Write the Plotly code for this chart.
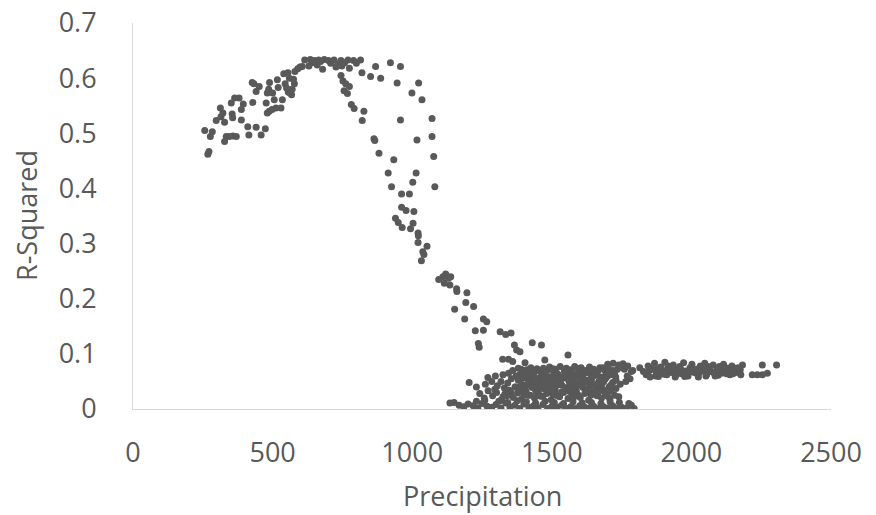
import plotly.graph_objects as go

# ---- data (Precipitation vs R-Squared) ----
rise_x = [272, 268, 257, 284, 277, 298, 315, 322, 313, 328, 334, 345, 358, 370, 328, 352, 355, 357,
          364, 380, 388, 388, 411, 415, 441, 459, 474, 427, 433, 441, 429, 481, 486, 477, 489, 481,
          488, 498, 512, 506, 500, 535, 530, 517, 540, 555, 545, 550, 556, 562, 570, 578, 568, 580,
          590, 598, 606, 395, 452, 520, 560, 575]
rise_y = [0.467, 0.462, 0.505, 0.503, 0.494, 0.523, 0.530, 0.537, 0.546, 0.520, 0.494, 0.494, 0.495,
          0.494, 0.485, 0.555, 0.535, 0.528, 0.564, 0.564, 0.543, 0.524, 0.512, 0.497, 0.511, 0.497,
          0.508, 0.592, 0.590, 0.576, 0.556, 0.573, 0.580, 0.555, 0.592, 0.537, 0.540, 0.543, 0.546,
          0.561, 0.573, 0.561, 0.546, 0.597, 0.608, 0.610, 0.590, 0.582, 0.575, 0.573, 0.580, 0.590,
          0.570, 0.612, 0.617, 0.620, 0.621, 0.553, 0.585, 0.583, 0.600, 0.598]

peak_x = [615, 635, 650, 665, 685, 700, 720, 745, 770, 790, 815, 630, 660, 679, 727, 748, 775,
          745, 752, 762, 775, 756, 768, 782, 792, 820, 851, 869, 887, 922, 958, 946, 1023, 999,
          1035, 827, 821, 958, 863, 866, 881, 934, 1017, 1071, 1071, 1077, 642, 672, 708, 735, 758,
          800]
peak_y = [0.633, 0.634, 0.632, 0.633, 0.634, 0.632, 0.633, 0.632, 0.633, 0.632, 0.633, 0.622,
          0.624, 0.616, 0.620, 0.622, 0.618, 0.605, 0.595, 0.590, 0.585, 0.577, 0.572, 0.552, 0.545,
          0.610, 0.603, 0.621, 0.600, 0.628, 0.621, 0.591, 0.591, 0.573, 0.561, 0.540, 0.523, 0.524,
          0.490, 0.487, 0.464, 0.452, 0.488, 0.527, 0.494, 0.458, 0.628, 0.630, 0.627, 0.626, 0.628,
          0.627]

fall_x = [914, 1014, 926, 1002, 1081, 962, 990, 962, 978, 1006, 940, 950, 964, 1003, 994, 1021,
          1022, 1021, 1053, 1038, 1042, 1033, 1095, 1110, 1120, 1130, 1138, 1115, 1135, 1159, 1160,
          1196, 1192, 1220, 1152, 1188, 1255, 1267, 1226, 1255, 1315, 1335, 1354, 1237, 1240, 1366,
          1374, 1386, 1324, 1345, 1360, 1430, 1463, 1475, 1558, 1404, 1380]
fall_y = [0.428, 0.428, 0.403, 0.411, 0.403, 0.390, 0.390, 0.366, 0.360, 0.358, 0.346, 0.338,
          0.329, 0.337, 0.327, 0.319, 0.314, 0.302, 0.295, 0.285, 0.280, 0.269, 0.235, 0.240, 0.245,
          0.237, 0.240, 0.228, 0.225, 0.218, 0.213, 0.211, 0.193, 0.186, 0.181, 0.163, 0.163, 0.158,
          0.142, 0.143, 0.140, 0.135, 0.138, 0.119, 0.112, 0.116, 0.107, 0.104, 0.090, 0.090, 0.086,
          0.120, 0.116, 0.089, 0.098, 0.084, 0.074]

band_a_x = [1385, 1395, 1402, 1410, 1418, 1425, 1432, 1440, 1447, 1455, 1462, 1470, 1477, 1485,
            1492, 1500, 1508, 1515, 1522, 1530, 1538, 1545, 1552, 1560, 1568, 1575, 1582, 1590,
            1598, 1605, 1612, 1620, 1628, 1635, 1642, 1650, 1658, 1665, 1672, 1680, 1688, 1695,
            1702, 1710, 1718, 1725, 1735, 1748,
            1390, 1414, 1436, 1458, 1481, 1504, 1526, 1549, 1571, 1594, 1616, 1639, 1661, 1684,
            1706, 1729]
band_a_y = [0.062, 0.068, 0.058, 0.071, 0.064, 0.075, 0.060, 0.069, 0.073, 0.056, 0.066, 0.074,
            0.061, 0.070, 0.076, 0.059, 0.067, 0.072, 0.063, 0.077, 0.057, 0.069, 0.074, 0.062,
            0.071, 0.065, 0.077, 0.058, 0.068, 0.075, 0.061, 0.070, 0.066, 0.076, 0.059, 0.072,
            0.064, 0.069, 0.075, 0.058, 0.071, 0.066, 0.078, 0.062, 0.070, 0.064, 0.072, 0.076,
            0.072, 0.060, 0.064, 0.070, 0.058, 0.073, 0.060, 0.064, 0.059, 0.073, 0.067, 0.063,
            0.061, 0.075, 0.068, 0.058]

band_b_x = [1305, 1318, 1330, 1342, 1355, 1368, 1380, 1392, 1405, 1417, 1430, 1442, 1455, 1468,
            1480, 1492, 1505, 1517, 1530, 1542, 1555, 1568, 1580, 1592, 1605, 1617, 1630, 1642,
            1655, 1668, 1680, 1692, 1705, 1718, 1730, 1745,
            1386, 1411, 1436, 1461, 1486, 1511, 1536, 1561, 1586, 1611, 1636, 1661, 1686, 1711,
            1398, 1423, 1448, 1473, 1498, 1523, 1548, 1573, 1598, 1623, 1648, 1673, 1698, 1722]
band_b_y = [0.042, 0.050, 0.038, 0.047, 0.055, 0.040, 0.052, 0.045, 0.036, 0.050, 0.057, 0.041,
            0.048, 0.054, 0.038, 0.046, 0.053, 0.043, 0.050, 0.056, 0.039, 0.047, 0.052, 0.044,
            0.055, 0.037, 0.049, 0.053, 0.042, 0.050, 0.046, 0.055, 0.040, 0.048, 0.052, 0.045,
            0.040, 0.044, 0.050, 0.039, 0.052, 0.038, 0.043, 0.051, 0.038, 0.047, 0.041, 0.036,
            0.050, 0.043,
            0.056, 0.048, 0.042, 0.060, 0.044, 0.055, 0.061, 0.043, 0.058, 0.052, 0.060, 0.046,
            0.059, 0.062]

band_c_x = [1242, 1258, 1272, 1288, 1302, 1318, 1332, 1348, 1362, 1378, 1392, 1408, 1422, 1438,
            1452, 1468, 1482, 1498, 1512, 1528, 1542, 1558, 1572, 1588, 1602, 1618, 1632, 1648,
            1662, 1678, 1692, 1708, 1725, 1740,
            1296, 1325, 1355, 1385, 1415, 1445, 1475, 1505, 1535, 1565, 1595, 1625, 1655, 1685,
            1340, 1370, 1400, 1430, 1460, 1490, 1520, 1550, 1580, 1610, 1640, 1670, 1700, 1730,
            1412, 1442, 1472, 1502, 1532, 1562, 1592, 1622, 1652, 1682, 1712]
band_c_y = [0.028, 0.020, 0.033, 0.024, 0.030, 0.016, 0.027, 0.034, 0.021, 0.029, 0.018, 0.032,
            0.025, 0.020, 0.031, 0.023, 0.028, 0.017, 0.034, 0.022, 0.030, 0.019, 0.026, 0.033,
            0.021, 0.028, 0.016, 0.031, 0.024, 0.020, 0.029, 0.018, 0.025, 0.022,
            0.036, 0.022, 0.029, 0.035, 0.025, 0.030, 0.036, 0.026, 0.031, 0.036, 0.025, 0.034,
            0.030, 0.033,
            0.024, 0.040, 0.026, 0.039, 0.023, 0.041, 0.024, 0.038, 0.022, 0.040, 0.025, 0.039,
            0.023, 0.037,
            0.045, 0.033, 0.044, 0.034, 0.046, 0.032, 0.045, 0.035, 0.044, 0.036, 0.033]

band_d_x = [1135, 1150, 1168, 1185, 1200, 1218, 1235, 1250, 1268, 1285, 1300, 1318, 1335, 1350,
            1368, 1385, 1400, 1418, 1435, 1450, 1468, 1485, 1500, 1518, 1535, 1550, 1568, 1585,
            1600, 1618, 1635, 1650, 1668, 1685, 1700, 1718, 1735, 1750, 1768, 1785, 1795,
            1310, 1342, 1376, 1409, 1442, 1476, 1509, 1542, 1576, 1609, 1642, 1676, 1709, 1742,
            1776, 1260, 1230]
band_d_y = [0.011, 0.012, 0.007, 0.004, 0.009, 0.006, 0.002, 0.010, 0.005, 0.003, 0.008, 0.002,
            0.011, 0.004, 0.007, 0.001, 0.009, 0.003, 0.006, 0.002, 0.008, 0.001, 0.005, 0.003,
            0.007, 0.002, 0.004, 0.001, 0.006, 0.003, 0.002, 0.005, 0.001, 0.004, 0.002, 0.006,
            0.001, 0.003, 0.002, 0.007, 0.001,
            0.014, 0.012, 0.015, 0.013, 0.011, 0.014, 0.012, 0.010, 0.013, 0.011, 0.012, 0.010,
            0.013, 0.012, 0.010, 0.016, 0.014]

extra_x = [1204, 1271, 1230, 1262, 1285, 1298, 1325, 1345, 1360, 1372, 1760, 1772, 1785, 1790,
           1770, 1755, 1740, 1720, 1700, 1780, 1765, 1665, 1680]
extra_y = [0.048, 0.057, 0.040, 0.045, 0.050, 0.060, 0.062, 0.065, 0.070, 0.060, 0.072, 0.078,
           0.068, 0.070, 0.060, 0.082, 0.080, 0.083, 0.081, 0.055, 0.050, 0.029, 0.035]

right_x = [1815, 1828, 1838, 1845, 1852, 1860, 1868, 1875, 1882, 1890, 1898, 1905, 1912, 1920,
           1928, 1935, 1942, 1950, 1958, 1965, 1972, 1980, 1988, 1995, 2002, 2010, 2018, 2025,
           2032, 2040, 2048, 2055, 2062, 2070, 2078, 2085, 2092, 2100, 2108, 2115, 2122, 2130,
           2138, 2145, 2152, 2160, 2168, 2175,
           1842, 1856, 1872, 1886, 1902, 1916, 1932, 1946, 1962, 1976, 1992, 2006, 2022, 2036,
           2052, 2066, 2082, 2096, 2112, 2126, 2142, 2156,
           1849, 1879, 1909, 1939, 1969, 1999, 2029, 2059, 2089, 2119, 2149,
           2183, 2177, 2218, 2236, 2254, 2254, 2272, 2305]
right_y = [0.075, 0.068, 0.062, 0.078, 0.058, 0.072, 0.083, 0.065, 0.059, 0.076, 0.070, 0.085,
           0.062, 0.073, 0.066, 0.080, 0.058, 0.071, 0.077, 0.064, 0.084, 0.069, 0.060, 0.075,
           0.081, 0.066, 0.072, 0.058, 0.078, 0.070, 0.083, 0.063, 0.074, 0.068, 0.080, 0.060,
           0.072, 0.077, 0.065, 0.081, 0.069, 0.074, 0.062, 0.078, 0.070, 0.066, 0.075, 0.071,
           0.066, 0.074, 0.060, 0.070, 0.063, 0.078, 0.068, 0.062, 0.072, 0.059, 0.067, 0.071,
           0.063, 0.075, 0.060, 0.070, 0.065, 0.061, 0.070, 0.064, 0.068, 0.074,
           0.070, 0.073, 0.068, 0.071, 0.066, 0.069, 0.066, 0.077, 0.068, 0.072, 0.064,
           0.080, 0.062, 0.062, 0.062, 0.062, 0.080, 0.065, 0.080]

x_ticks = [0, 500, 1000, 1500, 2000, 2500]
x_tick_labels = ["0", "500", "1000", "1500", "2000", "2500"]
y_ticks = [0, 0.1, 0.2, 0.3, 0.4, 0.5, 0.6, 0.7]
y_tick_labels = ["0", "0.1", "0.2", "0.3", "0.4", "0.5", "0.6", "0.7"]

precip = rise_x + peak_x + fall_x + band_a_x + band_b_x + band_c_x + band_d_x + extra_x + right_x
rsq = rise_y + peak_y + fall_y + band_a_y + band_b_y + band_c_y + band_d_y + extra_y + right_y

TXT = "#595959"
FONT = "Open Sans"
FS = 27

fig = go.Figure(go.Scatter(
    x=precip, y=rsq, mode="markers",
    marker=dict(color="#595959", size=7, line=dict(width=0)),
    hoverinfo="x+y",
))

fig.update_layout(
    width=876, height=515,
    margin=dict(l=133, r=45, t=23, b=106),
    paper_bgcolor="white", plot_bgcolor="white",
    showlegend=False,
    font=dict(family=FONT, color=TXT, size=FS),
    xaxis=dict(range=[0, 2500], tickvals=x_ticks, ticktext=x_tick_labels,
               showgrid=False, zeroline=False, showline=True, linecolor="#d9d9d9",
               linewidth=1, ticks="", ticklabelstandoff=20, automargin=False,
               ticklabeloverflow="allow",
               tickfont=dict(family=FONT, color=TXT, size=FS)),
    yaxis=dict(range=[0, 0.7], tickvals=y_ticks, ticktext=y_tick_labels,
               showgrid=False, zeroline=False, showline=True, linecolor="#d9d9d9",
               linewidth=1, ticks="", ticklabelstandoff=30, automargin=False,
               ticklabeloverflow="allow",
               tickfont=dict(family=FONT, color=TXT, size=FS)),
    annotations=[
        dict(text="Precipitation", xref="paper", yref="paper", x=0.5, y=0,
             xanchor="center", yanchor="middle", yshift=-86, showarrow=False,
             font=dict(family=FONT, color=TXT, size=FS)),
        dict(text="R-Squared", xref="paper", yref="paper", x=0, y=0.5,
             xanchor="center", yanchor="middle", xshift=-107, textangle=-90,
             showarrow=False, font=dict(family=FONT, color=TXT, size=FS)),
    ],
)

# remove the default 8px page margin so the figure fills the 876x515 window exactly
fig.write_html("out.html", config={"displayModeBar": False},
               post_script="document.body.style.margin='0px';")
